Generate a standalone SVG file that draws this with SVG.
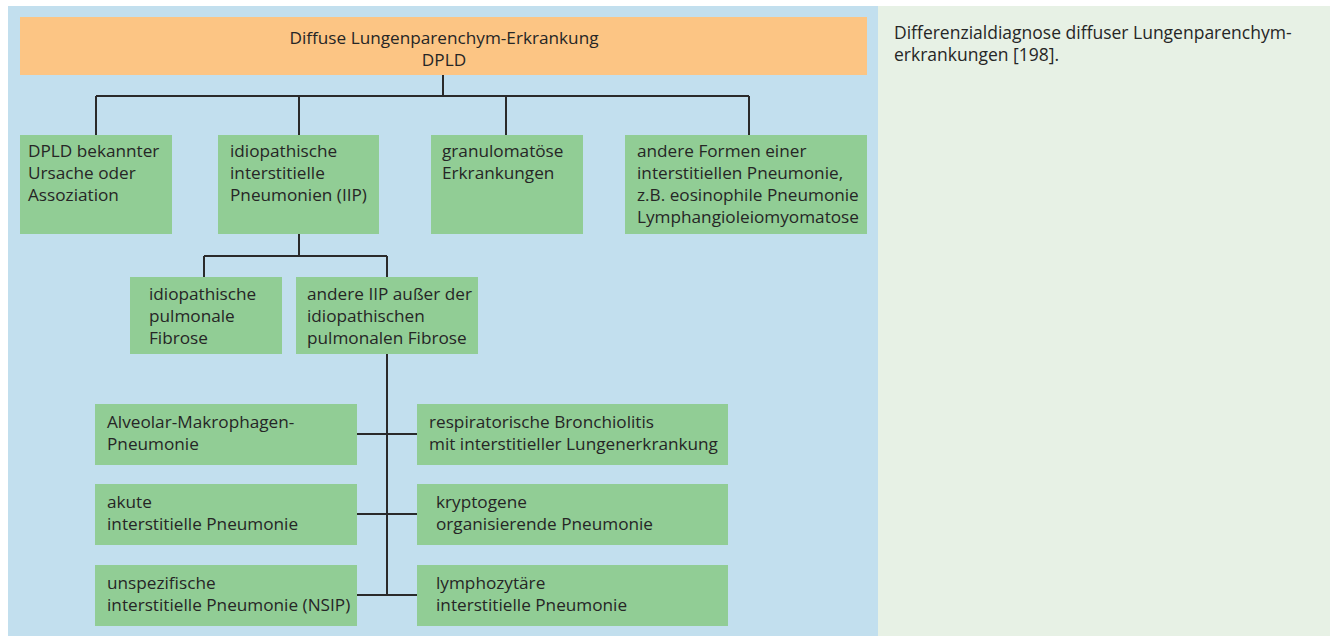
<svg xmlns="http://www.w3.org/2000/svg" width="1330" height="636" viewBox="0 0 1330 636">
<style>
.bg{fill:#ffffff}
.panel{fill:#c2dfee}
.side{fill:#e7f1e5}
.hdr{fill:#fcc584}
.box{fill:#91cd95}
text{font-family:"Open Sans","Noto Sans","Liberation Sans",sans-serif;font-size:17.2px;fill:#262626}
.cap{font-size:17.5px}
.c{text-anchor:middle}
.ln{stroke:#2a2a2a;stroke-width:2;fill:none}
</style>
<rect class="bg" x="0" y="0" width="1330" height="636"/>
<rect class="panel" x="8" y="6" width="870" height="630"/>
<rect class="side" x="878" y="6" width="452" height="630"/>
<g id="caption">
<text class="cap" x="894" y="39">Differenzialdiagnose diffuser Lungenparenchym-</text>
<text class="cap" x="894" y="61">erkrankungen [198].</text>
</g>
<g id="connectors">
<path class="ln" d="M443 75V96M96 96H749M96 96V135M299 96V135M506 96V135M749 96V135"/>
<path class="ln" d="M299 234V256M204 256H387M204 256V277M387 256V277"/>
<path class="ln" d="M387 354V595M357 434H417M357 514H417M357 595H417"/>
</g>
<g id="root">
<rect class="hdr" x="20" y="17" width="847" height="58"/>
<text class="c" x="444" y="44">Diffuse Lungenparenchym-Erkrankung</text>
<text class="c" x="444" y="66">DPLD</text>
</g>
<g id="n1">
<rect class="box" x="20" y="135" width="152" height="99"/>
<text x="28" y="157">DPLD bekannter</text>
<text x="28" y="179">Ursache oder</text>
<text x="28" y="201">Assoziation</text>
</g>
<g id="n2">
<rect class="box" x="218" y="135" width="161" height="99"/>
<text x="230" y="157">idiopathische</text>
<text x="230" y="179">interstitielle</text>
<text x="230" y="201">Pneumonien (IIP)</text>
</g>
<g id="n3">
<rect class="box" x="431" y="135" width="152" height="99"/>
<text x="442" y="157">granulomatöse</text>
<text x="442" y="179">Erkrankungen</text>
</g>
<g id="n4">
<rect class="box" x="625" y="135" width="242" height="99"/>
<text x="637" y="157">andere Formen einer</text>
<text x="637" y="179">interstitiellen Pneumonie,</text>
<text x="637" y="201">z.B. eosinophile Pneumonie</text>
<text x="637" y="223">Lymphangioleiomyomatose</text>
</g>
<g id="n5">
<rect class="box" x="130" y="277" width="152" height="77"/>
<text x="149" y="300">idiopathische</text>
<text x="149" y="322">pulmonale</text>
<text x="149" y="344">Fibrose</text>
</g>
<g id="n6">
<rect class="box" x="296" y="277" width="182" height="77"/>
<text x="307" y="300">andere IIP außer der</text>
<text x="307" y="322">idiopathischen</text>
<text x="307" y="344">pulmonalen Fibrose</text>
</g>
<g id="n7">
<rect class="box" x="95" y="404" width="262" height="61"/>
<text x="107" y="428">Alveolar-Makrophagen-</text>
<text x="107" y="450">Pneumonie</text>
</g>
<g id="n8">
<rect class="box" x="417" y="404" width="311" height="61"/>
<text x="429" y="428">respiratorische Bronchiolitis</text>
<text x="429" y="450">mit interstitieller Lungenerkrankung</text>
</g>
<g id="n9">
<rect class="box" x="95" y="484" width="262" height="61"/>
<text x="107" y="508">akute</text>
<text x="107" y="530">interstitielle Pneumonie</text>
</g>
<g id="n10">
<rect class="box" x="417" y="484" width="311" height="61"/>
<text x="436" y="508">kryptogene</text>
<text x="436" y="530">organisierende Pneumonie</text>
</g>
<g id="n11">
<rect class="box" x="95" y="565" width="262" height="61"/>
<text x="107" y="589">unspezifische</text>
<text x="107" y="611">interstitielle Pneumonie (NSIP)</text>
</g>
<g id="n12">
<rect class="box" x="417" y="565" width="311" height="61"/>
<text x="436" y="589">lymphozytäre</text>
<text x="436" y="611">interstitielle Pneumonie</text>
</g>
</svg>
